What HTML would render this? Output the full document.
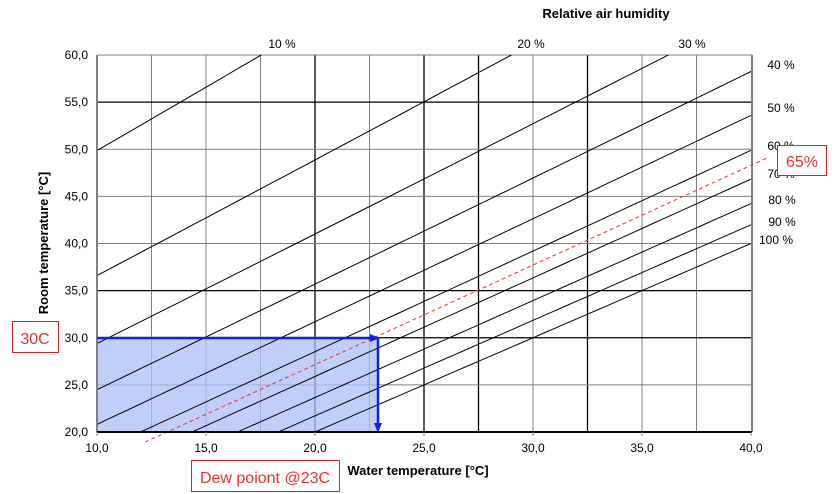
<!DOCTYPE html>
<html><head><meta charset="utf-8"><style>
html,body{margin:0;padding:0;background:#fff;width:838px;height:494px;overflow:hidden;font-family:"Liberation Sans",Arial,sans-serif}
svg{display:block}
</style></head><body>
<svg id="s" width="838" height="494" xmlns="http://www.w3.org/2000/svg" font-family="Liberation Sans, Arial, sans-serif">
<defs><clipPath id="c"><rect x="97" y="55" width="655" height="377"/></clipPath></defs>
<g id="grid"></g>
<rect x="97" y="338" width="281" height="94" fill="#aabff8" fill-opacity="0.75"/>
<g id="curves" clip-path="url(#c)" stroke="#000" stroke-width="1" fill="none"></g>
<path id="red" stroke="#f03030" stroke-width="1" stroke-dasharray="4,3" fill="none"/>
<line x1="97" y1="55" x2="97" y2="432" stroke="#808080" stroke-width="2"/>
<line x1="752" y1="55" x2="752" y2="432" stroke="#808080" stroke-width="2"/>
<line x1="97" y1="432" x2="752" y2="432" stroke="#000" stroke-width="2"/>
<line x1="97" y1="338" x2="372" y2="338" stroke="#1020e0" stroke-width="2.5"/>
<polygon points="380,338 370,334 370,342" fill="#1020e0"/>
<line x1="378" y1="338" x2="378" y2="424" stroke="#1020e0" stroke-width="2.5"/>
<polygon points="378,433 374,423 382,423" fill="#1020e0"/>
<g id="labels" font-size="12" fill="#000"></g>
<text x="606" y="18" font-size="13" font-weight="bold" text-anchor="middle">Relative air humidity</text>
<text x="418" y="475" font-size="13" font-weight="bold" text-anchor="middle">Water temperature [°C]</text>
<text transform="translate(48,243) rotate(-90)" font-size="13" font-weight="bold" text-anchor="middle">Room temperature [°C]</text>
<rect x="12.5" y="321.5" width="46" height="31" fill="#fff" stroke="#e02020"/>
<text x="35" y="344" font-size="16" fill="#f03030" text-anchor="middle">30C</text>
<rect x="191.5" y="460.5" width="148" height="31" fill="#fff" stroke="#e02020"/>
<text x="265" y="483" font-size="16" fill="#f03030" text-anchor="middle">Dew poiont @23C</text>
<rect x="777.5" y="145.5" width="49" height="30" fill="#fff" stroke="#e02020"/>
<text x="802" y="167" font-size="16" fill="#f03030" text-anchor="middle">65%</text>
</svg>
<script>
var NS="http://www.w3.org/2000/svg";
function X(t){return 97+(t-10)*654/30}
function Y(t){return 432-(t-20)*377/40}
function el(p,n,a,txt){var e=document.createElementNS(NS,n);for(var k in a)e.setAttribute(k,a[k]);if(txt)e.textContent=txt;p.appendChild(e);return e}
var g=document.getElementById('grid');
var vblack={20:1,25:1,27.5:1,32.5:1};
for(var i=0;i<=12;i++){var t=10+2.5*i;if(i==0||i==12)continue;
 el(g,'line',{x1:X(t),y1:55,x2:X(t),y2:432,stroke:vblack[t]?'#000':'#808080','stroke-width':vblack[t]?1.3:1});}
var hblack={55:1,35:1,30:1};
for(var t=25;t<=60;t+=5){el(g,'line',{x1:97,y1:Y(t),x2:752,y2:Y(t),stroke:hblack[t]?'#000':'#808080','stroke-width':hblack[t]?1.3:1});}
function T(td,rh){var a=17.62,b=243.12;var gg=a*td/(b+td)-Math.log(rh);return b*gg/(a-gg)}
var c=document.getElementById('curves');
[0.1,0.2,0.3,0.4,0.5,0.6,0.7,0.8,0.9,1.0].forEach(function(rh){var d='';for(var td=-5;td<=41;td+=0.5){d+=(d?'L':'M')+X(td).toFixed(1)+','+Y(T(td,rh)).toFixed(1)}el(c,'path',{d:d})});
var d='';for(var td=12.2;td<=41.1;td+=0.5){d+=(d?'L':'M')+X(td).toFixed(1)+','+Y(T(td,0.65)).toFixed(1)}
document.getElementById('red').setAttribute('d',d);
var L=document.getElementById('labels');
for(var t=20;t<=60;t+=5)el(L,'text',{x:88,y:Y(t)+4,'text-anchor':'end'},t.toFixed(1).replace('.',','));
for(var t=10;t<=40;t+=5){el(L,'text',{x:X(t),y:452,'text-anchor':'middle'},t.toFixed(1).replace('.',','));
 el(L,'line',{x1:X(t),y1:432,x2:X(t),y2:436,stroke:'#808080'});}
[[282,48,'10 %'],[531,48,'20 %'],[692,48,'30 %'],[781,69,'40 %'],[781,112,'50 %'],[781,150,'60 %'],[781,178,'70 %'],[782,204,'80 %'],[782,226,'90 %'],[776,244,'100 %']].forEach(function(a){el(L,'text',{x:a[0],y:a[1],'text-anchor':'middle'},a[2])});
</script>
</body></html>
